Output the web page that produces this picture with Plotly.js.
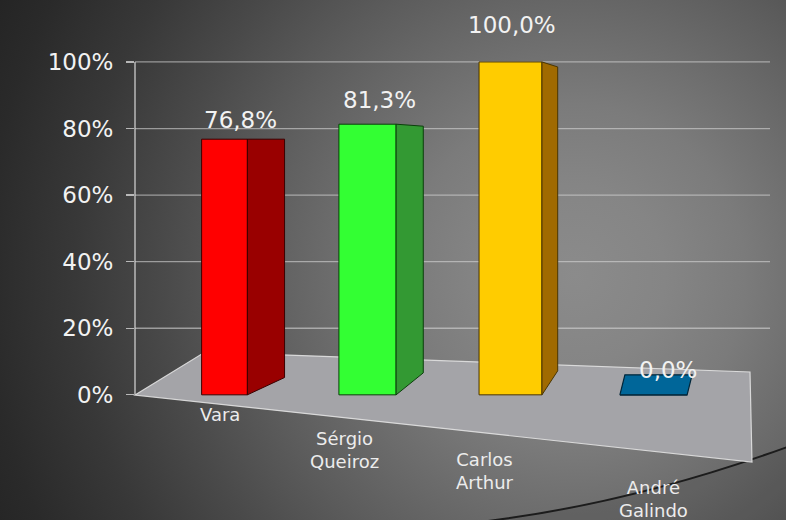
<!DOCTYPE html>
<html>
<head>
<meta charset="utf-8">
<script src="https://cdn.plot.ly/plotly-3.0.1.min.js"></script>
<style>
html,body{margin:0;padding:0;width:786px;height:520px;overflow:hidden;
background:radial-gradient(circle at 575px 275px,#8b8b8b 0px,#858585 90px,#7b7b7b 170px,#6b6b6b 250px,#5b5b5b 330px,#4a4a4a 410px,#383838 500px,#2a2a2a 590px,#1e1e1e 700px);}
#chart{width:786px;height:520px;}
</style>
</head>
<body>
<div id="chart"></div>
<script>
// ---- data ----
const categories = ["Vara", "Sérgio Queiroz", "Carlos Arthur", "André Galindo"];
const categoryLabels = ["Vara", "Sérgio<br>Queiroz", "Carlos<br>Arthur", "André<br>Galindo"];
const values = [76.8, 81.3, 100.0, 0.0];
const valueLabels = ["76,8%", "81,3%", "100,0%", "0,0%"];
const yTickValues = [0, 20, 40, 60, 80, 100];
const yTickLabels = ["0%", "20%", "40%", "60%", "80%", "100%"];

// ---- styles ----
const frontColors = ["#ff0000", "#33ff33", "#ffcc00", "#006699"];
const sideColors  = ["#990000", "#339933", "#a06a00", "#004c73"];
const edgeColors  = ["#3a0000", "#0a3f0a", "#4a3500", "#00263a"];
const frontWidth  = [0.32, 0.40, 0.44, 0.47];
const sideDepth   = [0.26, 0.19, 0.11, 0.0];
const sideTopDrop = [0, -0.6, -1.5, 0];
const sideBottomRise = [5.2, 6.6, 7.2, 0];
const topRise  = [0, 0, 0, 6];
const topShift = [0, 0, 0, 0.035];
const valueDx = [0.115, 0.087, 0.01, 0.10];
const valueDy = [19, 24, 37, 25];
const catDx = [-0.03, -0.16, -0.18, 0.0];
const catPy = [414, 450, 471, 499];

const FONT = "DejaVu Sans";
const L = 135, R = 770, T = 27, B = 518;
const YR = [-37, 110.5];
const XR = [(L - 224.5) / 143, (R - 224.5) / 143];
function xp(px) { return (px - L) / (R - L); }
function yp(py) { return (B - py) / (B - T); }
function yData(py) { return YR[1] - (py - T) / (B - T) * (YR[1] - YR[0]); }

const idx = categories.map((c, i) => i);
const traces = [];

traces.push({
  type: "bar", x: idx, y: values, width: frontWidth,
  marker: {color: frontColors, line: {color: edgeColors, width: 1}},
  hoverinfo: "skip", showlegend: false
});

idx.forEach(i => {
  const v = values[i];
  const xr = i + frontWidth[i] / 2, xl = i - frontWidth[i] / 2;
  if (sideDepth[i] > 0) {
    const d = sideDepth[i];
    traces.push({
      type: "scatter", mode: "lines", fill: "toself",
      x: [xr, xr + d, xr + d, xr, xr],
      y: [0, sideBottomRise[i], v + sideTopDrop[i], v, 0],
      fillcolor: sideColors[i], line: {color: edgeColors[i], width: 1},
      hoverinfo: "skip", showlegend: false
    });
  }
  if (topRise[i] > 0) {
    const s = topShift[i];
    traces.push({
      type: "scatter", mode: "lines", fill: "toself",
      x: [xl, xr, xr + s, xl + s, xl],
      y: [v, v, v + topRise[i], v + topRise[i], v],
      fillcolor: frontColors[i], line: {color: edgeColors[i], width: 1.2},
      hoverinfo: "skip", showlegend: false
    });
  }
});

const annotations = [];
idx.forEach(i => {
  annotations.push({
    x: i + valueDx[i], y: values[i], xref: "x", yref: "y", yshift: valueDy[i],
    text: valueLabels[i], showarrow: false,
    font: {family: FONT, size: 23, color: "#f2f2f2"}
  });
  annotations.push({
    x: i + catDx[i], y: yData(catPy[i]), xref: "x", yref: "y",
    text: categoryLabels[i], showarrow: false,
    font: {family: FONT, size: 18, color: "#ececec"}
  });
});

const shapes = [];
// gridlines on back wall
yTickValues.filter(v => v > 0).forEach(v => {
  shapes.push({type: "line", xref: "paper", yref: "y", x0: 0, x1: 1, y0: v, y1: v,
    line: {color: "rgba(215,215,215,0.6)", width: 1.3}, layer: "below"});
});
// darker area below arc
const a0 = [480, 522], ac = [631, 504], a2 = [790, 446];
shapes.push({type: "path", xref: "paper", yref: "paper", layer: "below",
  path: `M ${xp(a0[0])},${yp(a0[1])} Q ${xp(ac[0])},${yp(ac[1])} ${xp(a2[0])},${yp(a2[1])} L ${xp(790)},${yp(525)} L ${xp(480)},${yp(525)} Z`,
  fillcolor: "rgba(0,0,0,0.10)", line: {width: 0}});
shapes.push({type: "path", xref: "paper", yref: "paper", layer: "below",
  path: `M ${xp(a0[0])},${yp(a0[1])} Q ${xp(ac[0])},${yp(ac[1])} ${xp(a2[0])},${yp(a2[1])}`,
  line: {color: "#1c1c1c", width: 2}});
// floor
const fl = [[135, 395], [205, 352], [750, 372], [752, 462]];
shapes.push({type: "path", xref: "paper", yref: "paper", layer: "below",
  path: "M " + fl.map(p => xp(p[0]) + "," + yp(p[1])).join(" L ") + " Z",
  fillcolor: "#a4a4a8", line: {color: "rgba(225,225,225,0.9)", width: 1.2}});
// vertical axis line
shapes.push({type: "line", xref: "paper", yref: "y", x0: 0, x1: 0, y0: 0, y1: 100,
  line: {color: "rgba(215,215,215,0.8)", width: 1.5}, layer: "below"});

const layout = {
  width: 786, height: 520,
  margin: {l: L, r: 786 - R, t: T, b: 520 - B, pad: 0},
  paper_bgcolor: "rgba(0,0,0,0)", plot_bgcolor: "rgba(0,0,0,0)",
  showlegend: false,
  xaxis: {range: XR, visible: false, fixedrange: true},
  yaxis: {range: YR, tickvals: yTickValues, ticktext: yTickLabels,
    showgrid: false, zeroline: false, showline: false,
    ticks: "outside", ticklen: 8, tickcolor: "rgba(215,215,215,0.8)", tickwidth: 1.3,
    ticklabelstandoff: 8,
    tickfont: {family: FONT, size: 23, color: "#f2f2f2"}, fixedrange: true},
  shapes: shapes,
  annotations: annotations
};

Plotly.newPlot("chart", traces, layout, {displayModeBar: false, staticPlot: true});
</script>
</body>
</html>
